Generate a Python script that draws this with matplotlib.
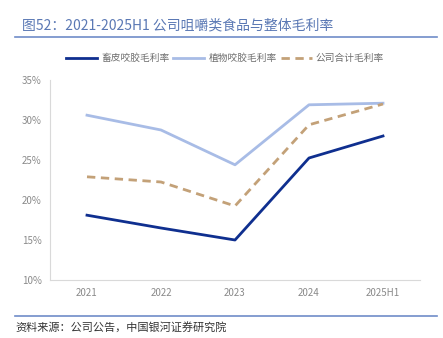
import matplotlib.pyplot as plt
from matplotlib.lines import Line2D

plt.rcParams['font.family'] = ['Noto Sans CJK SC', 'DejaVu Sans']

# data (%)
years = ['2021', '2022', '2023', '2024', '2025H1']
pet_chew = [18.1, 16.5, 15.0, 25.25, 28.0]       # 畜皮咬胶毛利率
plant_chew = [30.6, 28.75, 24.4, 31.9, 32.1]     # 植物咬胶毛利率
company_total = [22.9, 22.25, 19.25, 29.4, 32.0]  # 公司合计毛利率
yticks = [10, 15, 20, 25, 30, 35]

fig = plt.figure(figsize=(4.43, 3.38), dpi=100)
ax = fig.add_axes([50 / 443, 58 / 338, 370 / 443, 200 / 338])

x = range(len(years))
ax.plot(x, pet_chew, color='#0f2f8f', lw=2.0, label='畜皮咬胶毛利率')
ax.plot(x, plant_chew, color='#a8bce6', lw=2.0, label='植物咬胶毛利率')
ax.plot(x, company_total, color='#c3a178', lw=2.0, ls=(0, (3, 2)), label='公司合计毛利率')

ax.set_xlim(-0.5, len(years) - 0.5)
ax.set_ylim(10, 35)
ax.set_yticks(yticks)
ax.set_yticklabels([f'{v}%' for v in yticks])
ax.set_xticks(list(x))
ax.set_xticklabels(years)
ax.tick_params(length=0, labelsize=7, colors='#8a8a8a', pad=6)
for s in ['top', 'right']:
    ax.spines[s].set_visible(False)
ax.spines['left'].set_color('#d9d9d9')
ax.spines['bottom'].set_color('#d9d9d9')

fig.legend(loc='center', bbox_to_anchor=(225 / 443, 1 - 58 / 338), ncol=3,
           frameon=False, fontsize=7, handlelength=3.2, columnspacing=0.4,
           handletextpad=0.4, labelcolor='#6e6e6e')

fig.text(22 / 443, 1 - 25 / 338, '图52：2021-2025H1 公司咀嚼类食品与整体毛利率',
         fontsize=10, color='#5a78b4', va='center', ha='left')
fig.add_artist(Line2D([15 / 443, 437 / 443], [1 - 37 / 338] * 2, color='#6f8cc8', lw=1.2))
fig.add_artist(Line2D([15 / 443, 437 / 443], [1 - 316 / 338] * 2, color='#6f8cc8', lw=1.2))
fig.text(15 / 443, 1 - 327 / 338, '资料来源：公司公告，中国银河证券研究院',
         fontsize=8, color='#333333', style='italic', va='center', ha='left')

fig.savefig('out.png', dpi=100)
